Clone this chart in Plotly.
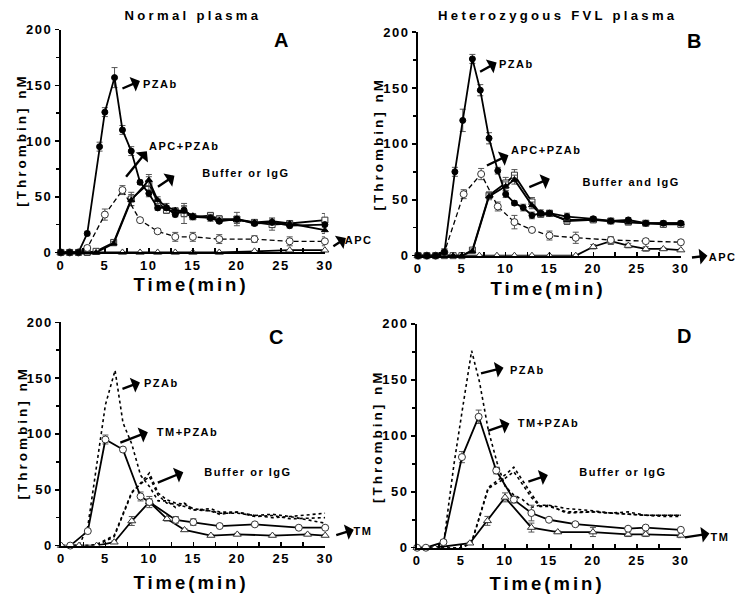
import plotly.graph_objects as go

W, H = 745, 604
FONT = "Liberation Sans, Arial, sans-serif"

# ---------------- data ----------------
X_TICKS = [0, 5, 10, 15, 20, 25, 30]
X_TICK_LABELS = ["0", "5", "10", "15", "20", "25", "30"]
X_MINOR = [2.5, 7.5, 12.5, 17.5, 22.5, 27.5]
Y_TICKS = [0, 50, 100, 150, 200]
Y_TICK_LABELS = ["0", "50", "100", "150", "200"]
Y_MINOR = [25, 75, 125, 175]

# Panel A - normal plasma
a_pzab_t = [0, 1, 2, 3, 4.4, 5, 6.1, 7, 8, 9, 10, 11, 12, 13, 14, 15, 17, 18, 20, 22, 24, 26, 30]
a_pzab_y = [0, 0, 0, 17, 95, 126, 157, 110, 91, 63, 53, 40, 40, 34, 38, 32, 31, 28, 30, 26, 27, 24, 25]
a_pzab_e = [0, 0, 0, 2, 4, 4, 9, 4, 4, 2, 3, 2, 2, 2, 3, 2, 2, 2, 2, 2, 2, 2, 2]
a_apcpz_t = [0, 1, 2, 3, 5, 7, 9, 11, 13, 15, 18, 22, 26, 30]
a_apcpz_y = [0, 0, 0, 4, 34, 56, 29, 19, 14, 14, 12, 12, 10, 10]
a_apcpz_e = [0, 0, 0, 2, 5, 4, 2, 2, 4, 4, 4, 3, 4, 4]
a_buf_t = [0, 1, 2, 3, 4, 6, 8, 10, 11, 12, 13, 14, 15, 17, 18, 20, 22, 24, 26, 30]
a_buf_y = [0, 0, 0, 0, 1, 9, 48, 62, 45, 38, 37, 35, 32, 33, 30, 30, 27, 25, 26, 29]
a_buf_e = [0, 0, 0, 0, 1, 2, 6, 6, 3, 3, 3, 9, 2, 3, 3, 6, 2, 5, 2, 6]
a_igg_y = [0, 0, 0, 0, 0, 8, 47, 65, 47, 41, 38, 37, 33, 31, 29, 29, 27, 28, 26, 20]
a_igg_e = [0, 0, 0, 0, 0, 2, 5, 5, 3, 3, 2, 5, 2, 3, 2, 3, 2, 3, 2, 3]
a_apc_t = [0, 1, 2, 3, 4, 7, 9, 11, 13, 15, 18, 22, 26, 30]
a_apc_y = [0, 0, 0, 0, 0, 0, 0, 0, 0, 0, 0, 1, 2, 2]

# Panel B - heterozygous FVL plasma
b_pzab_t = [0, 1, 2, 3, 4.2, 5.1, 6.2, 7.1, 8.1, 9.1, 10, 11, 12, 13, 14, 15, 17, 20, 22, 24, 26, 28, 30]
b_pzab_y = [0, 0, 0, 3, 75, 121, 176, 148, 105, 76, 55, 47, 43, 36, 38, 38, 35, 33, 31, 32, 29, 29, 29]
b_pzab_e = [0, 0, 0, 3, 4, 10, 4, 5, 5, 3, 3, 2, 3, 3, 3, 2, 3, 2, 2, 2, 2, 2, 2]
b_apcpz_t = [0, 1, 2, 3, 5.2, 7.2, 9.1, 11, 13, 15, 18, 22, 26, 30]
b_apcpz_y = [0, 0, 0, 3, 55, 73, 44, 30, 23, 18, 16, 14, 13, 12]
b_apcpz_e = [0, 0, 0, 3, 4, 5, 4, 6, 2, 4, 5, 3, 2, 2]
b_buf_t = [0, 1, 2, 3, 4, 5, 6.2, 8.1, 10, 11, 13, 14, 15, 17, 20, 22, 24, 26, 28, 30]
b_buf_y = [0, 0, 0, 0, 0, 0, 5, 54, 65, 72, 48, 37, 38, 31, 32, 31, 30, 29, 28, 28]
b_buf_e = [0, 0, 0, 0, 0, 0, 2, 3, 5, 5, 4, 2, 2, 3, 2, 2, 2, 2, 2, 2]
b_igg_y = [0, 0, 0, 0, 0, 0, 4, 53, 62, 68, 45, 37, 37, 32, 32, 31, 30, 29, 29, 29]
b_igg_e = [0, 0, 0, 0, 0, 0, 2, 3, 4, 4, 3, 2, 2, 2, 2, 2, 2, 2, 2, 2]
b_apc_t = [0, 1, 2, 3, 4, 5, 7, 9, 11, 13, 15, 18, 20, 22, 24, 26, 28, 30]
b_apc_y = [0, 0, 0, 0, 0, 0, 0, 0, 0, 0, 0, 0, 8, 13, 9, 6, 6, 5]
b_apc_e = [0, 0, 0, 0, 0, 0, 0, 0, 0, 0, 0, 0, 2, 3, 2, 2, 1, 1]

# Panel C - normal plasma + TM
c_tmpz_t = [1, 3, 5, 7, 9, 10, 13, 15, 18, 22, 27, 30]
c_tmpz_y = [0, 13, 95, 86, 44, 39, 23, 21, 17.5, 19, 16, 16]
c_tmpz_e = [0, 1, 4, 2, 4, 3, 3, 3, 1, 1, 1, 1]
c_tm_t = [0, 2, 4, 6, 8, 10, 12, 14, 17, 20, 24, 28, 30]
c_tm_y = [0, 0, 0, 3, 22, 39, 24, 14, 9, 10, 9, 10, 9]
c_tm_e = [0, 0, 0, 1, 4, 5, 2, 1, 1, 1, 1, 1, 1]

# Panel D - heterozygous FVL plasma + TM
d_tmpz_t = [0, 1, 3, 5.1, 7, 9, 11, 13, 15, 18, 24, 26, 30]
d_tmpz_y = [0, 0, 5, 81, 117, 69, 43, 31, 25, 21, 17, 18, 16]
d_tmpz_e = [0, 0, 2, 5, 6, 3, 3, 7, 1, 1, 1, 1, 1]
d_tm_t = [0, 2, 6, 8, 10, 13, 16, 20, 24, 26, 30]
d_tm_y = [0, 0, 4, 24, 45, 18, 14, 14, 12, 12, 11]
d_tm_e = [0, 0, 1, 4, 4, 4, 1, 4, 2, 2, 2]

# ---------------- layout helpers ----------------
def px(x):
    return x / W

def py(y):
    return 1 - y / H

# panel plot-area pixel boxes: (left, right, top, bottom)
BOX = {
    "A": (57.7, 325.7, 23.3, 251.7),
    "B": (420.3, 687.0, 25.7, 255.0),
    "C": (58.3, 326.0, 323.3, 552.3),
    "D": (419.3, 687.0, 325.0, 554.5),
}
AX = {"A": ("x", "y"), "B": ("x2", "y2"), "C": ("x3", "y3"), "D": ("x4", "y4")}

tickfont = dict(family=FONT, size=13, color="black", weight="bold")

layout_axes = {}
for k, (l, r, t, b) in BOX.items():
    xa, ya = AX[k]
    xname = "xaxis" if xa == "x" else "xaxis" + xa[1:]
    yname = "yaxis" if ya == "y" else "yaxis" + ya[1:]
    layout_axes[xname] = dict(
        domain=[px(l), px(r)], anchor=ya, range=[0, 30],
        tickmode="array", tickvals=X_TICKS, ticktext=X_TICK_LABELS,
        ticks="inside", ticklen=4, tickwidth=1.5, tickcolor="black",
        minor=dict(tickmode="array", tickvals=X_MINOR, ticks="inside", ticklen=4,
                   tickwidth=1.5, tickcolor="black", showgrid=False),
        showline=True, linewidth=2, linecolor="black",
        showgrid=False, zeroline=False, tickfont=tickfont, fixedrange=True,
    )
    layout_axes[yname] = dict(
        domain=[py(b), py(t)], anchor=xa, range=[0, 200],
        tickmode="array", tickvals=Y_TICKS, ticktext=Y_TICK_LABELS,
        ticks="outside", ticklen=4, tickwidth=1.5, tickcolor="black",
        minor=dict(tickmode="array", tickvals=Y_MINOR, ticks="outside", ticklen=3,
                   tickwidth=1.5, tickcolor="black", showgrid=False),
        showline=True, linewidth=2, linecolor="black",
        showgrid=False, zeroline=False, tickfont=tickfont, fixedrange=True,
    )

fig = go.Figure()

EDGE = "#333333"


def add(panel, t, y, e=None, symbol="circle", filled=True, dash="solid",
        size=6, mode="lines+markers", lw=1.8):
    xa, ya = AX[panel]
    marker = dict(symbol=symbol, size=size,
                  color="black" if filled else "white",
                  line=dict(color="black" if filled else EDGE, width=1))
    kw = dict(x=t, y=y, mode=mode, xaxis=xa, yaxis=ya, cliponaxis=False,
              line=dict(color="black", width=lw, dash=dash), showlegend=False,
              hoverinfo="skip")
    if "markers" in mode:
        kw["marker"] = marker
    if e is not None:
        kw["error_y"] = dict(type="data", array=e, visible=True, color="#555555",
                             thickness=1, width=3)
    fig.add_trace(go.Scatter(**kw))


DASH = "5px,3px"

# Panel A
add("A", a_apc_t, a_apc_y, None, "triangle-up", False, size=7)
add("A", a_buf_t, a_buf_y, a_buf_e, "square", False, size=6)
add("A", a_buf_t, a_igg_y, a_igg_e, "triangle-up", True, size=6)
add("A", a_apcpz_t, a_apcpz_y, a_apcpz_e, "circle", False, dash=DASH, size=7, lw=1.3)
add("A", a_pzab_t, a_pzab_y, a_pzab_e, "circle", True, size=6)

# Panel B
add("B", b_apc_t, b_apc_y, b_apc_e, "triangle-up", False, size=7)
add("B", b_buf_t, b_buf_y, b_buf_e, "square", False, size=6)
add("B", b_buf_t, b_igg_y, b_igg_e, "triangle-up", True, size=6)
add("B", b_apcpz_t, b_apcpz_y, b_apcpz_e, "circle", False, dash=DASH, size=7, lw=1.3)
add("B", b_pzab_t, b_pzab_y, b_pzab_e, "circle", True, size=6)

# Panel C (dotted = panel A references)
add("C", a_pzab_t, a_pzab_y, mode="lines", dash="dot", lw=1.6)
add("C", a_buf_t, a_buf_y, mode="lines", dash="dot", lw=1.6)
add("C", a_buf_t, a_igg_y, mode="lines", dash="dot", lw=1.6)
add("C", c_tm_t, c_tm_y, c_tm_e, "triangle-up", False, size=7)
add("C", c_tmpz_t, c_tmpz_y, c_tmpz_e, "circle", False, size=7)

# Panel D (dotted = panel B references)
add("D", b_pzab_t, b_pzab_y, mode="lines", dash="dot", lw=1.6)
add("D", b_buf_t, b_buf_y, mode="lines", dash="dot", lw=1.6)
add("D", b_buf_t, b_igg_y, mode="lines", dash="dot", lw=1.6)
add("D", d_tm_t, d_tm_y, d_tm_e, "triangle-up", False, size=7)
add("D", d_tmpz_t, d_tmpz_y, d_tmpz_e, "circle", False, size=7)

# ---------------- annotations ----------------
anns = []


def text(x, y, s, size=11, angle=0):
    anns.append(dict(x=px(x), y=py(y), xref="paper", yref="paper", text=s,
                     showarrow=False, xanchor="center", yanchor="middle",
                     textangle=angle,
                     font=dict(family=FONT, size=size, color="black", weight="bold")))


def arrow(x0, y0, x1, y1):
    anns.append(dict(x=px(x1), y=py(y1), xref="paper", yref="paper", text="",
                     showarrow=True, ax=x0 - x1, ay=y0 - y1, axref="pixel", ayref="pixel",
                     arrowhead=1, arrowsize=1.1, arrowwidth=2.4, arrowcolor="black",
                     standoff=0, startstandoff=0))


# titles
text(192, 9, "Normal plasma", 13.1)
text(562, 9, "Heterozygous FVL plasma", 13.1)
# panel letters
text(281, 34, "A", 20)
text(700, 35, "B", 20)
text(276, 338, "C", 20)
text(690, 337, "D", 20)
# axis titles
for cx, cy in [(190, 285), (552, 289), (190, 590), (551, 591)]:
    text(cx, cy, "Time(min)", 18.5)
for cx, cy in [(18, 137), (380, 140), (18, 437), (379, 440)]:
    text(cx, cy, "[Thrombin] nM", 13.5, angle=-90)

# Panel A labels
text(159, 79, "PZAb"); arrow(119, 84, 138, 76)
text(183, 143, "APC+PZAb"); arrow(123, 175, 145, 148)
text(246, 170, "Buffer or IgG"); arrow(155, 185, 173, 173)
text(360, 239, "APC"); arrow(333, 246, 347, 237)
# Panel B labels
text(520, 58, "PZAb"); arrow(482, 67, 500, 57)
text(551, 147, "APC+PZAb"); arrow(489, 163, 512, 152)
text(636, 179, "Buffer and IgG"); arrow(532, 185, 554, 176)
text(729, 256, "APC"); arrow(697, 257, 714, 255)
# Panel C labels
text(160, 386, "PZAb"); arrow(119, 392, 138, 385)
text(186, 436, "TM+PZAb"); arrow(117, 447, 146, 436)
text(248, 477, "Buffer or IgG"); arrow(155, 488, 182, 477)
text(364, 537, "TM"); arrow(336, 542, 355, 536)
# Panel D labels
text(531, 372, "PZAb"); arrow(483, 376, 507, 370)
text(553, 427, "TM+PZAb"); arrow(490, 435, 513, 427)
text(628, 477, "Buffer or IgG"); arrow(531, 487, 552, 480)
text(727, 543, "TM"); arrow(690, 544, 716, 540)

fig.update_layout(
    width=W, height=H, autosize=False,
    margin=dict(l=0, r=0, t=0, b=0),
    paper_bgcolor="white", plot_bgcolor="white",
    showlegend=False, annotations=anns, **layout_axes,
)

post = """
document.body.style.margin = '0';
document.body.style.padding = '0';
document.body.style.overflow = 'hidden';
var gd = document.getElementById('{plot_id}');
var LS = {'13': 1.5, '13.1': 3.3, '18.5': 3, '13.5': 3, '11': 1.5};
function applyLS(){
  gd.querySelectorAll('text').forEach(function(t){
    var fs = parseFloat(t.style.fontSize);
    var key = String(fs);
    if (LS.hasOwnProperty(key)) { t.style.letterSpacing = LS[key] + 'px'; }
  });
}
applyLS();
gd.on('plotly_afterplot', applyLS);
"""

fig.write_html("out.html", post_script=post, config={"staticPlot": True})
